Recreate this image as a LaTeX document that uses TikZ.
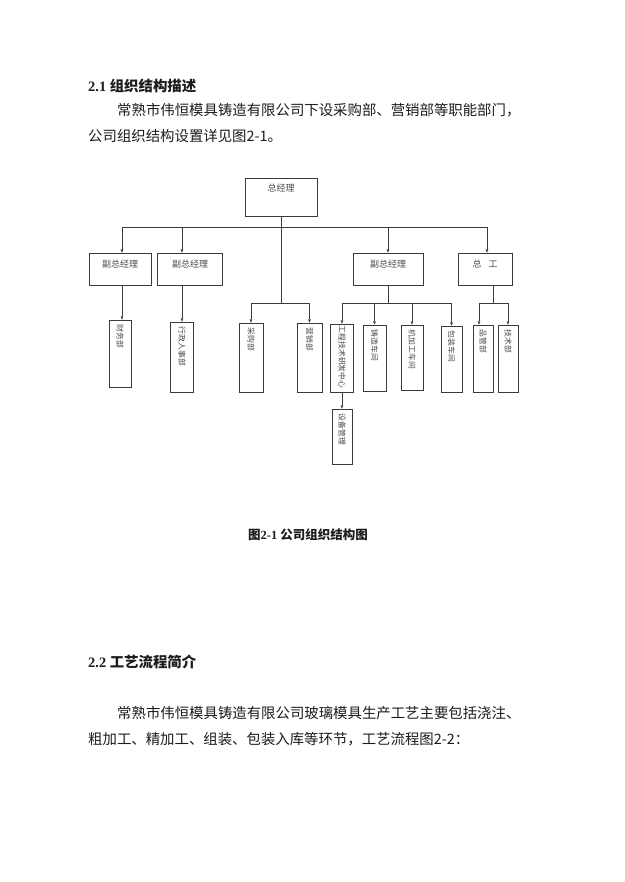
\documentclass[tikz,border=0pt]{standalone}
\usepackage{fontspec}
\setmainfont{Liberation Serif}
\newfontfamily\cjk{Noto Sans CJK SC}
\usetikzlibrary{positioning}
\usetikzlibrary{arrows.meta}
\definecolor{inkgray}{HTML}{3A3A3A}
\definecolor{txtgray}{HTML}{4A4A4A}
\definecolor{bodyink}{HTML}{1C1C1C}
\tikzset{
  orgbox/.style={draw=inkgray, line width=0.45pt, inner sep=0pt},
  hname/.style={font=\cjk\fontsize{9}{10}\selectfont, text=txtgray, inner sep=0pt},
  vname/.style={font=\cjk\fontsize{7.8}{8}\selectfont, text=txtgray, inner sep=0pt, rotate=-90, anchor=west},
  link/.style={draw=inkgray, line width=0.45pt},
  arr/.style={link, -{Triangle[length=3.5pt,width=2.6pt]}},
  bodyline/.style={font=\cjk\fontsize{14.4}{17}\selectfont, text=bodyink, anchor=west, inner sep=0pt},
  headline/.style={font=\bfseries\fontsize{14.4}{17}\selectfont, text=bodyink, anchor=west, inner sep=0pt}
}
\begin{document}
\begin{tikzpicture}[x=1pt,y=-1pt]
      \useasboundingbox[fill=white] (0,0) rectangle (624,882);
      % text above the chart
      \node[headline] (h21) at (88,86) {2.1 {\cjk 组织结构描述}};
      \node[bodyline] (p1a) at (117,110) {常熟市伟恒模具铸造有限公司下设采购部、营销部等职能部门，};
      \node[bodyline] (p1b) at (88,136) {公司组织结构设置详见图2-1。};
      % boxes
      \node[orgbox, minimum width=72pt, minimum height=38pt] (zjl) at (281,197) {};
      \node[orgbox, minimum width=62pt, minimum height=32pt] (fz1) at (120,269) {};
      \node[orgbox, minimum width=65pt, minimum height=32pt] (fz2) at (190,269) {};
      \node[orgbox, minimum width=70pt, minimum height=32pt] (fz3) at (388,269) {};
      \node[orgbox, minimum width=54pt, minimum height=32pt] (zg) at (485,269) {};
      \node[orgbox, minimum width=22pt, minimum height=67pt] (cw) at (120,353.5) {};
      \node[orgbox, minimum width=23pt, minimum height=70pt] (xzrs) at (182,357) {};
      \node[orgbox, minimum width=24pt, minimum height=69pt] (cg) at (251,357.5) {};
      \node[orgbox, minimum width=25pt, minimum height=69pt] (yx) at (309.5,357.5) {};
      \node[orgbox, minimum width=23pt, minimum height=68pt] (gc) at (342,358) {};
      \node[orgbox, minimum width=23pt, minimum height=66pt] (zz) at (374.5,358) {};
      \node[orgbox, minimum width=22pt, minimum height=65pt] (jjg) at (412,357.5) {};
      \node[orgbox, minimum width=21pt, minimum height=66pt] (bz) at (451.5,359) {};
      \node[orgbox, minimum width=20pt, minimum height=67pt] (pg) at (483,358.5) {};
      \node[orgbox, minimum width=20pt, minimum height=67pt] (js) at (508,358.5) {};
      \node[orgbox, minimum width=20pt, minimum height=55pt] (sb) at (342,436.5) {};
      % box texts
      \node[hname, below=6pt of zjl.north] (zjl-t) {总经理};
      \node[hname, below=7pt of fz1.north] (fz1-t) {副总经理};
      \node[hname, below=7pt of fz2.north] (fz2-t) {副总经理};
      \node[hname, below=7pt of fz3.north] (fz3-t) {副总经理};
      \node[hname, below=7pt of zg.north] (zg-t) {总\hspace{7pt}工};
      \node[vname] (cw-t) at ([yshift=-5pt]cw.north) {财务部};
      \node[vname] (xzrs-t) at ([yshift=-5pt]xzrs.north) {行政人事部};
      \node[vname] (cg-t) at ([yshift=-5pt]cg.north) {采购部};
      \node[vname] (yx-t) at ([yshift=-5pt]yx.north) {营销部};
      \node[vname] (gc-t) at ([yshift=-2pt]gc.north) {工程技术研发中心};
      \node[vname] (zz-t) at ([yshift=-5pt]zz.north) {铸造车间};
      \node[vname] (jjg-t) at ([yshift=-5pt]jjg.north) {机加工车间};
      \node[vname] (bz-t) at ([yshift=-5pt]bz.north) {包装车间};
      \node[vname] (pg-t) at ([yshift=-5pt]pg.north) {品管部};
      \node[vname] (js-t) at ([yshift=-5pt]js.north) {技术部};
      \node[vname] (sb-t) at ([yshift=-5pt]sb.north) {设备管理};
      % junctions
      \coordinate (jtop) at ([yshift=-11pt]zjl.south);
      \coordinate (jmid) at (zjl.south |- 0,303);
      \coordinate (jfz3) at (fz3.south |- 0,303);
      \coordinate (jzg) at ([xshift=8pt]zg.south |- 0,303);
      % connectors
      \draw[arr] (jtop) -| ([xshift=2pt]fz1.north);
      \draw[arr] (jtop) -| ([xshift=-8pt]fz2.north);
      \draw[arr] (jtop) -| (fz3.north);
      \draw[arr] (jtop) -| ([xshift=2pt]zg.north);
      \draw[link] (zjl.south) -- (jmid);
      \draw[arr] (jmid) -| (cg.north);
      \draw[arr] (jmid) -| (yx.north);
      \draw[arr] ([xshift=2pt]fz1.south) -- ([xshift=2pt]cw.north);
      \draw[arr] ([xshift=-8pt]fz2.south) -- (xzrs.north);
      \draw[link] (fz3.south) -- (jfz3);
      \draw[arr] (jfz3) -| (gc.north);
      \draw[arr] (jfz3) -| (zz.north);
      \draw[arr] (jfz3) -| (jjg.north);
      \draw[arr] (jfz3) -| (bz.north);
      \draw[link] ([xshift=8pt]zg.south) -- (jzg);
      \draw[arr] (jzg) -| ([xshift=-4pt]pg.north);
      \draw[arr] (jzg) -| (js.north);
      \draw[arr] (gc.south) -- (sb.north);
      % caption and next section
      \node[font=\bfseries\fontsize{12.5}{15}\selectfont, text=bodyink] (cap) at (308,535) {{\cjk 图}2-1 {\cjk 公司组织结构图}};
      \node[headline] (h22) at (88,662) {2.2 {\cjk 工艺流程简介}};
      \node[bodyline] (p2a) at (117,713) {常熟市伟恒模具铸造有限公司玻璃模具生产工艺主要包括浇注、};
      \node[bodyline] (p2b) at (88,739) {粗加工、精加工、组装、包装入库等环节，工艺流程图2-2：};
    \end{tikzpicture}
\end{document}
